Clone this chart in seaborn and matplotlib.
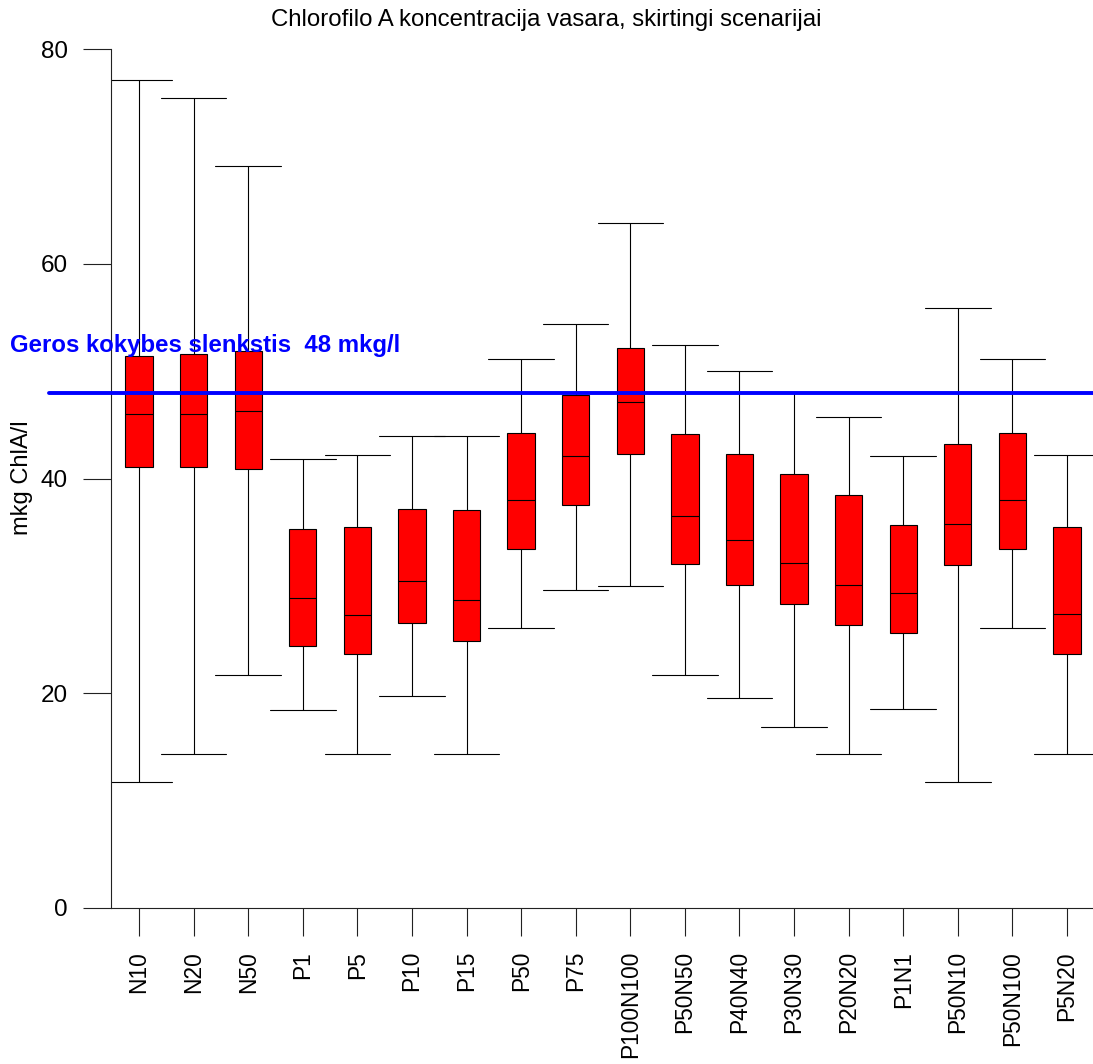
import numpy as np
import pandas as pd
import matplotlib
matplotlib.use("Agg")
import matplotlib.pyplot as plt
import seaborn as sns

# Scenario names and five-number summaries of summer chlorophyll A (mkg/l)
scenarios = ["N10", "N20", "N50", "P1", "P5", "P10", "P15", "P50", "P75",
             "P100N100", "P50N50", "P40N40", "P30N30", "P20N20", "P1N1",
             "P50N10", "P50N100", "P5N20"]
mins = [11.7, 14.3, 21.7, 18.4, 14.3, 19.7, 14.3, 26.1, 29.6,
        30.0, 21.7, 19.6, 16.9, 14.3, 18.5, 11.7, 26.1, 14.3]
q1 = [41.1, 41.1, 40.9, 24.4, 23.7, 26.5, 24.9, 33.4, 37.5,
      42.3, 32.0, 30.1, 28.3, 26.4, 25.6, 31.9, 33.4, 23.7]
medians = [46.0, 46.0, 46.3, 28.9, 27.3, 30.5, 28.7, 38.0, 42.1,
           47.1, 36.5, 34.3, 32.1, 30.1, 29.3, 35.8, 38.0, 27.4]
q3 = [51.4, 51.6, 51.9, 35.3, 35.5, 37.2, 37.1, 44.2, 47.8,
      52.2, 44.1, 42.3, 40.4, 38.5, 35.7, 43.2, 44.2, 35.5]
maxs = [77.1, 75.4, 69.1, 41.8, 42.2, 44.0, 44.0, 51.1, 54.4,
        63.8, 52.4, 50.0, 48.0, 45.7, 42.1, 55.9, 51.1, 42.2]
threshold = 48
yticks = [0, 20, 40, 60, 80]

# Long table: the five summary values per scenario reproduce the same
# quartiles and min/max whiskers when seaborn computes the box statistics.
rows = []
for name, a, b, c, d, e in zip(scenarios, mins, q1, medians, q3, maxs):
    for v in (a, b, c, d, e):
        rows.append({"scenario": name, "value": v})
df = pd.DataFrame(rows)

sns.set_style("ticks")
plt.rcParams["font.family"] = ["Liberation Sans", "DejaVu Sans"]
plt.rcParams["text.color"] = "black"
plt.rcParams["axes.labelcolor"] = "black"
plt.rcParams["xtick.color"] = "black"
plt.rcParams["ytick.color"] = "black"

W, H = 1093, 1064
fig = plt.figure(figsize=(W / 100, H / 100), dpi=100)
ax = fig.add_axes([111 / W, 1 - 908 / H, (W - 111) / W, (908 - 49) / H])

sns.boxplot(data=df, x="scenario", y="value", order=scenarios,
            whis=(0, 100), width=0.5, color="#ff0000", saturation=1,
            linecolor="black", linewidth=0.8, showfliers=False,
            capwidths=1.2, ax=ax)

ax.set_xlim(-0.513, 17.476)
ax.set_ylim(0, 80)
ax.set_yticks(yticks)
ax.set_xlabel("")
ax.set_ylabel("")

for side in ("top", "right"):
    ax.spines[side].set_visible(False)
for side in ("left", "bottom"):
    ax.spines[side].set_linewidth(0.8)
    ax.spines[side].set_color("#222222")

ax.tick_params(axis="both", direction="out", length=20, width=0.8,
               color="#222222", labelcolor="black", pad=11)
ax.tick_params(axis="y", labelsize=17.5)
ax.tick_params(axis="x", labelsize=16.4, labelrotation=90)

# Good-quality threshold line and its label
ax.axhline(threshold, xmin=-0.063, xmax=1.0, color="#0000ff",
           linewidth=2.8, clip_on=False, zorder=5)
fig.text(10 / W, 1 - 352 / H, f"Geros kokybes slenkstis  {threshold} mkg/l",
         color="#0000ff", fontsize=17.3, fontweight="bold",
         ha="left", va="baseline")

fig.text(22 / W, 1 - 478 / H, "mkg ChlA/l", rotation=90,
         ha="center", va="center", fontsize=17)
fig.text(0.5, 1 - 20 / H, "Chlorofilo A koncentracija vasara, skirtingi scenarijai",
         ha="center", va="center", fontsize=17.3)

fig.savefig("out.png", dpi=100, facecolor="white")
